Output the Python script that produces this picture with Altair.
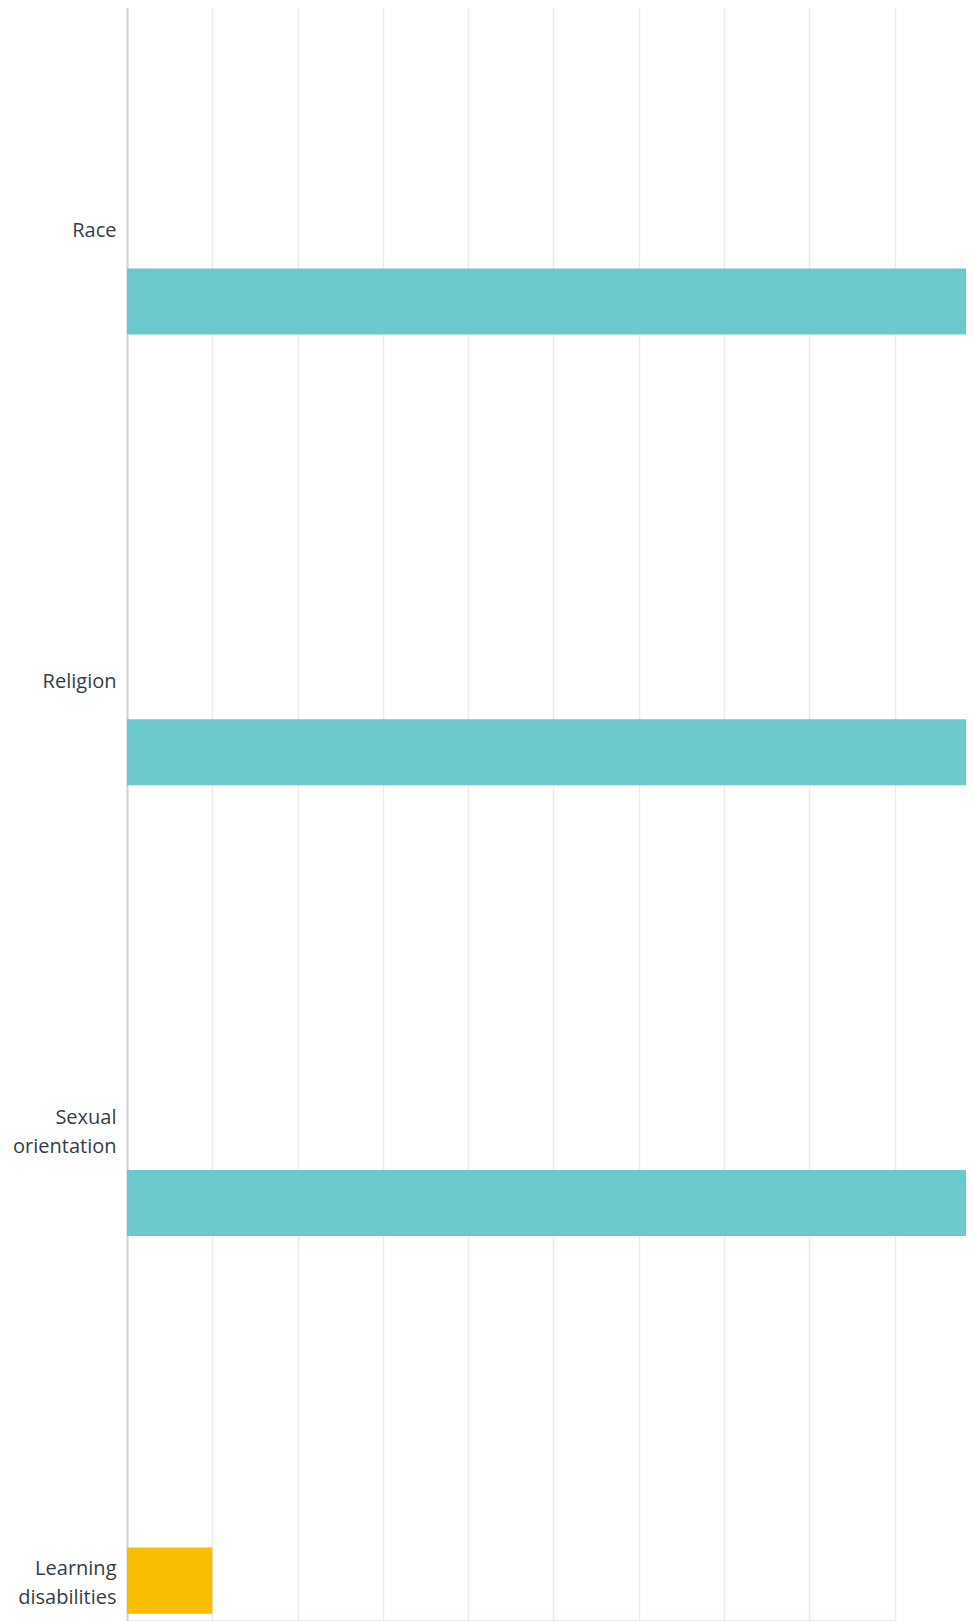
import altair as alt
import pandas as pd

categories = ["Race", "Religion", "Sexual orientation", "Learning disabilities"]
series = ["Other", "Yes", "No"]
other_values = [0, 0, 0, 0]
yes_values = [0, 0, 0, 10]
no_values = [100, 100, 100, 90]
series_colors = ["#A5D36E", "#F9BE00", "#6BC8CD"]
grid_ticks = [0, 10, 20, 30, 40, 50, 60, 70, 80, 90]

rows = []
for s, vals in zip(series, [other_values, yes_values, no_values]):
    for c, v in zip(categories, vals):
        rows.append({"category": c, "series": s, "value": v})
df = pd.DataFrame(rows)

chart = (
    alt.Chart(df)
    .mark_bar(clip=True)
    .encode(
        y=alt.Y(
            "category:N",
            sort=categories,
            scale=alt.Scale(domain=categories, range=[-5, 1798], paddingInner=0.5294, paddingOuter=0.2647),
            axis=alt.Axis(
                title=None,
                ticks=False,
                domain=True,
                domainColor="#d2d2d2",
                domainWidth=2,
                labelFont="Open Sans",
                labelFontSize=20,
                labelColor="#333e48",
                labelPadding=11,
                labelLineHeight=29,
                labelBaseline="middle",
                labelLimit=200,
                labelOffset={"condition": {"test": "length(datum.label) > 10", "value": -12}, "value": 3},
                labelExpr="length(datum.label) > 10 ? split(datum.label, ' ') : datum.label",
            ),
        ),
        yOffset=alt.YOffset(
            "series:N",
            sort=series,
            scale=alt.Scale(domain=series, paddingInner=0.096, paddingOuter=0),
        ),
        x=alt.X(
            "value:Q",
            scale=alt.Scale(domain=[0, 98.36], nice=False, zero=True),
            axis=alt.Axis(
                title=None,
                labels=False,
                ticks=False,
                domain=False,
                grid=True,
                values=grid_ticks,
                gridColor="#ececec",
                gridWidth=1.5,
            ),
        ),
        color=alt.Color(
            "series:N",
            scale=alt.Scale(domain=series, range=series_colors),
            legend=None,
        ),
    )
    .properties(
        width=839,
        height=1613,
        padding={"left": 119, "top": 0, "right": 0, "bottom": 0},
        autosize=alt.AutoSizeParams(type="none"),
    )
    .configure_view(stroke=None)
)

chart.save("out.html", embed_options={"renderer": "svg", "actions": False})
